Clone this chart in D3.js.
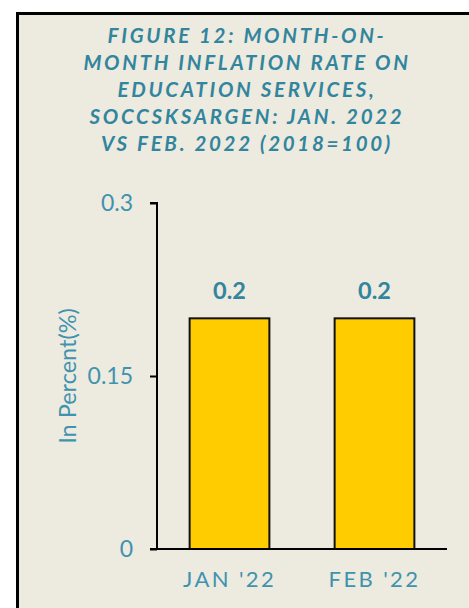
<!DOCTYPE html>
<html>
<head>
<meta charset="utf-8">
<script src="https://cdn.jsdelivr.net/npm/d3@7"></script>
<style>
  html, body { margin: 0; padding: 0; background: #ffffff; }
  svg { display: block; }
</style>
</head>
<body>
<script>
// Chart data
const categories = ["JAN '22", "FEB '22"];
const values = [0.2, 0.2];
const yTicks = [0, 0.15, 0.3];
const yTickLabels = ["0", "0.15", "0.3"];
const titleLines = [
  "FIGURE 12: MONTH-ON-",
  "MONTH INFLATION RATE ON",
  "EDUCATION SERVICES,",
  "SOCCSKSARGEN: JAN. 2022",
  "VS FEB. 2022 (2018=100)"
];
const yAxisTitle = "In Percent(%)";

const W = 469, H = 608;
const teal = "#31859C";
const tealLight = "#3F93AE";
const font = "Lato, 'Open Sans', sans-serif";

const svg = d3.select("body").append("svg")
  .attr("width", W).attr("height", H);

// Panel with heavy frame
svg.append("rect")
  .attr("x", 17.5).attr("y", 13.5)
  .attr("width", W + 20).attr("height", H + 20)
  .attr("fill", "#EDEAE0")
  .attr("stroke", "#000").attr("stroke-width", 3);

// Title
const title = svg.append("g").attr("font-family", font)
  .attr("font-weight", "bold").attr("font-style", "italic")
  .attr("font-size", 20.5).attr("fill", teal)
  .attr("text-anchor", "middle").attr("letter-spacing", 2.7);
titleLines.forEach((t, i) => {
  title.append("text").attr("x", 247).attr("y", 43 + i * 27).text(t);
});

// Scales
const plot = { left: 157, right: 447, top: 203, bottom: 549 };
const x = d3.scaleBand().domain(categories)
  .range([plot.left, plot.right])
  .paddingInner(0.45).paddingOuter(0.225);
const y = d3.scaleLinear().domain([0, 0.3]).range([plot.bottom, plot.top]);

// Bars
svg.append("g").selectAll("rect").data(values).join("rect")
  .attr("x", (d, i) => x(categories[i]))
  .attr("y", d => y(d))
  .attr("width", x.bandwidth())
  .attr("height", d => y(0) - y(d))
  .attr("fill", "#FFCC00")
  .attr("stroke", "#111").attr("stroke-width", 2);

// Value labels
svg.append("g").selectAll("text").data(values).join("text")
  .attr("x", (d, i) => x(categories[i]) + x.bandwidth() / 2)
  .attr("y", d => y(d) - 19)
  .attr("text-anchor", "middle")
  .attr("font-family", font).attr("font-weight", "bold")
  .attr("font-size", 23.5).attr("fill", teal)
  .text(d => d);

// Y axis
const yAxis = d3.axisLeft(y).tickValues(yTicks)
  .tickFormat((d, i) => yTickLabels[i]).tickSize(7).tickPadding(17);
const gy = svg.append("g").attr("transform", `translate(${plot.left},0)`).call(yAxis);
gy.select(".domain").attr("stroke", "#000").attr("stroke-width", 2)
  .attr("d", `M-7,${plot.top}H0V${plot.bottom}`);
gy.selectAll(".tick line").attr("stroke", "#000").attr("stroke-width", 2);
gy.selectAll(".tick text").attr("font-family", font)
  .attr("font-size", 23).attr("fill", tealLight);

// X axis
const xAxis = d3.axisBottom(x).tickSize(0).tickPadding(22);
const gx = svg.append("g").attr("transform", `translate(0,${plot.bottom})`).call(xAxis);
gx.select(".domain").attr("stroke", "#000").attr("stroke-width", 2)
  .attr("d", `M${plot.left - 7},0H${plot.right}`);
gx.selectAll(".tick text").attr("font-family", font)
  .attr("font-size", 22).attr("fill", tealLight)
  .attr("letter-spacing", 2.4);

// Y axis title
svg.append("text")
  .attr("transform", `translate(76,${y(0.15)}) rotate(-90)`)
  .attr("text-anchor", "middle")
  .attr("font-family", font).attr("font-size", 23.5).attr("fill", tealLight)
  .text(yAxisTitle);
</script>
</body>
</html>
